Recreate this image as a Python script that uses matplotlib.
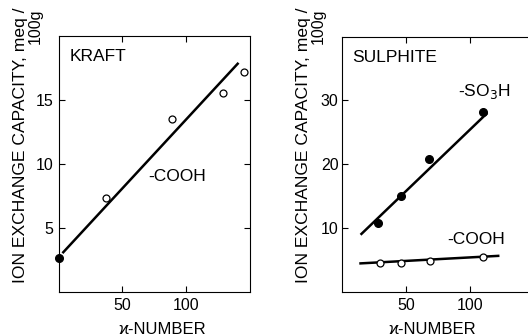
import matplotlib
matplotlib.use("Agg")
import matplotlib.pyplot as plt

plt.rcParams['font.family'] = ['Liberation Sans', 'DejaVu Sans']

# ---- data ----
kraft_kappa_filled = [0]
kraft_cap_filled = [2.65]
kraft_kappa_open = [37, 89, 129, 145]
kraft_cap_open = [7.35, 13.5, 15.5, 17.2]
kraft_fit_kappa = [3, 141]
kraft_fit_cap = [3.0, 17.9]

so3h_kappa = [28, 46, 68, 110]
so3h_cap = [10.8, 15.05, 20.8, 28.2]
so3h_fit_kappa = [14.5, 113.5]
so3h_fit_cap = [8.9, 28.0]

cooh_kappa = [30, 46, 69, 110]
cooh_cap = [4.5, 4.5, 4.8, 5.4]
cooh_fit_kappa = [13.5, 123]
cooh_fit_cap = [4.4, 5.6]

xticks = [50, 100]
kraft_yticks = [5, 10, 15]
sulph_yticks = [10, 20, 30]

ylabel_main = "ION EXCHANGE CAPACITY, meq /"
ylabel_unit = "100g"
xlabel_text = "\u03f0-NUMBER"

W, H = 528, 336
fig = plt.figure(figsize=(W / 100, H / 100), dpi=100)

def frac(x0, x1, ytop, ybot):
    return [x0 / W, 1 - ybot / H, (x1 - x0) / W, (ybot - ytop) / H]

ax1 = fig.add_axes(frac(58.6, 250, 36, 291.5))
ax2 = fig.add_axes(frac(342, 534, 36.5, 291.5))

fs = 11.5
lw_fit = 1.8
for ax, ylim, yt, pad in [(ax1, 20, kraft_yticks, 4), (ax2, 40, sulph_yticks, 2.5)]:
    ax.set_xlim(0, 150)
    ax.set_ylim(0, ylim)
    ax.set_xticks(xticks)
    ax.set_yticks(yt)
    ax.tick_params(direction='in', top=True, right=True, length=4.5, width=0.8,
                   labelsize=fs, color='black')
    ax.tick_params(axis='x', pad=5)
    ax.tick_params(axis='y', pad=pad)
    for s in ax.spines.values():
        s.set_linewidth(0.8)

# Kraft panel
ax1.plot(kraft_fit_kappa, kraft_fit_cap, color='black', lw=lw_fit, solid_capstyle='butt')
ax1.plot(kraft_kappa_open, kraft_cap_open, 'o', mfc='white', mec='black', ms=5, mew=0.9)
ax1.plot(kraft_kappa_filled, kraft_cap_filled, 'o', color='black', ms=5.5, clip_on=False, zorder=5)
ax1.text(8.4, 18.4, "KRAFT", fontsize=12.5, va='center', ha='left')
ax1.text(70, 9.0, "-COOH", fontsize=12.5, va='center', ha='left')

# Sulphite panel
ax2.plot(so3h_fit_kappa, so3h_fit_cap, color='black', lw=lw_fit, solid_capstyle='butt')
ax2.plot(so3h_kappa, so3h_cap, 'o', color='black', ms=5.5)
ax2.plot(cooh_fit_kappa, cooh_fit_cap, color='black', lw=lw_fit, solid_capstyle='butt')
ax2.plot(cooh_kappa, cooh_cap, 'o', mfc='white', mec='black', ms=5, mew=0.9, zorder=5)
ax2.text(8.3, 36.7, "SULPHITE", fontsize=12.5, va='center', ha='left')
ax2.text(91, 31.4, "-SO$_3$H", fontsize=12.5, va='center', ha='left')
ax2.text(82, 8.1, "-COOH", fontsize=12.5, va='center', ha='left')

# axis labels
fig.text(162 / W, 1 - 329 / H, xlabel_text, fontsize=fs + 0.5, ha='center', va='center')
fig.text(432 / W, 1 - 329 / H, xlabel_text, fontsize=fs + 0.5, ha='center', va='center')
for xb1, xb2 in ((25, 40), (308, 323)):
    fig.text(xb1 / W, 1 - 283 / H, ylabel_main, fontsize=12.6, rotation=90,
             rotation_mode='anchor', ha='left', va='baseline')
    fig.text(xb2 / W, 1 - 26 / H, ylabel_unit, fontsize=11.5, rotation=90,
             rotation_mode='anchor', ha='center', va='baseline')

fig.savefig("out.png", dpi=100)
